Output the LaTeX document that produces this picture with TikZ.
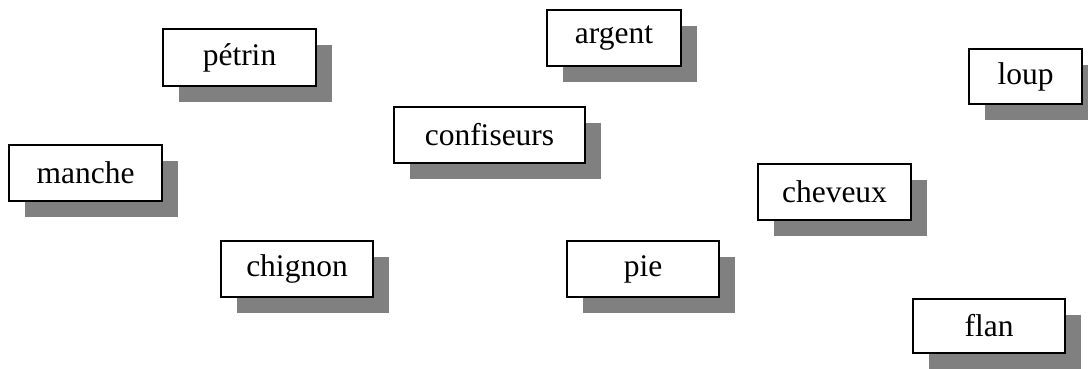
\documentclass[tikz,border=0pt]{standalone}
\usepackage{fontspec}
\setmainfont{Liberation Serif}
\usetikzlibrary{shadows}

\definecolor{shadowgray}{RGB}{128,128,128}
\tikzset{wordbox/.style={draw, line width=2pt, fill=white, inner sep=0pt,
    minimum height=56pt, font=\fontsize{31.5}{36}\selectfont,
    drop shadow={shadow xshift=16pt, shadow yshift=-16pt, fill=shadowgray, opacity=1}}}

\begin{document}
\begin{tikzpicture}[x=1pt, y=-1pt]
\useasboundingbox (0,0) rectangle (1088,369);
\node[wordbox, minimum width=153pt, minimum height=57pt] (petrin) at (239.5,57.5) {pétrin};
\node[wordbox, minimum width=134pt] (argent) at (614,38) {argent};
\node[wordbox, minimum width=113pt, minimum height=55pt] (loup) at (1025.5,76.5) {loup};
\node[wordbox, minimum width=191pt] (confiseurs) at (489.5,135) {confiseurs};
\node[wordbox, minimum width=153pt] (manche) at (85.5,173) {manche};
\node[wordbox, minimum width=153pt] (cheveux) at (834.5,192) {cheveux};
\node[wordbox, minimum width=152pt] (chignon) at (297,269) {chignon};
\node[wordbox, minimum width=152pt] (pie) at (643,269) {pie};
\node[wordbox, minimum width=152pt, minimum height=54pt] (flan) at (989,326) {flan};
\end{tikzpicture}
\end{document}
